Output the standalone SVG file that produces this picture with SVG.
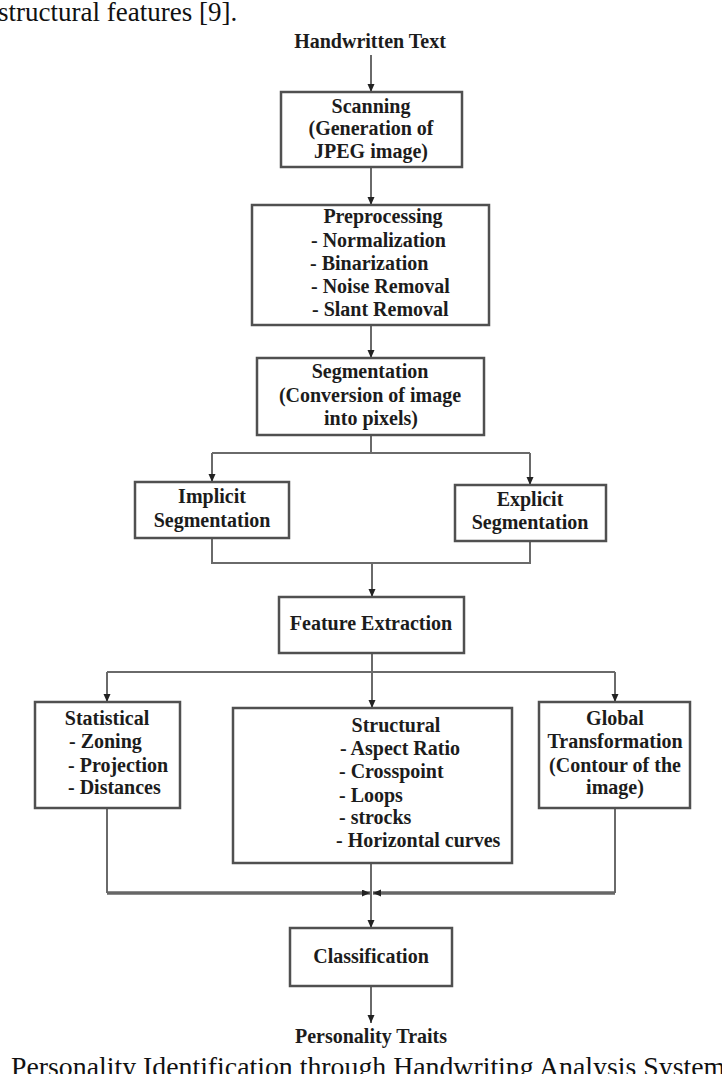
<svg xmlns="http://www.w3.org/2000/svg" width="722" height="1074" viewBox="0 0 722 1074">
<style>
.box{fill:#fff;stroke:#505050;stroke-width:2.5}
.t{font-family:"Liberation Serif","Times New Roman",serif;font-weight:bold;font-size:20px;fill:#1c1c1c}
.c{text-anchor:middle}
.cap{font-family:"Liberation Serif","Times New Roman",serif;font-size:27px;fill:#111}
.ln{fill:none;stroke:#6a6a6a;stroke-width:2}
.thick{fill:none;stroke:#666;stroke-width:3.5}
</style>
<defs>
<marker id="ah" markerUnits="userSpaceOnUse" markerWidth="8" markerHeight="9" refX="8" refY="3.5" orient="auto">
<path d="M0,0 L8,3.5 L0,7 Z" fill="#222"/>
</marker>
</defs>
<rect width="722" height="1074" fill="#fff"/>
<text class="cap" x="-2" y="21">structural features [9].</text>
<text class="cap" x="11" y="1076" style="font-size:27.8px">Personality Identification through Handwriting Analysis System</text>

<g id="connectors">
<path class="ln" d="M371,55 V92" marker-end="url(#ah)"/>
<path class="ln" d="M371,167 V205" marker-end="url(#ah)"/>
<path class="ln" d="M371,325 V358" marker-end="url(#ah)"/>
<path class="ln" d="M371,435 V453 M212,453 H530"/>
<path class="ln" d="M212,453 V482" marker-end="url(#ah)"/>
<path class="ln" d="M530,453 V485" marker-end="url(#ah)"/>
<path class="ln" d="M212,538 V563 H530 V541"/>
<path class="ln" d="M372,563 V597" marker-end="url(#ah)"/>
<path class="ln" d="M372,653 V672 M107,672 H615"/>
<path class="ln" d="M107,672 V702" marker-end="url(#ah)"/>
<path class="ln" d="M372,672 V708" marker-end="url(#ah)"/>
<path class="ln" d="M615,672 V702" marker-end="url(#ah)"/>
<path class="ln" d="M107,808 V893"/>
<path class="ln" d="M615,808 V893"/>
<path class="thick" d="M107,893 H370" marker-end="url(#ah)"/>
<path class="thick" d="M615,893 H373" marker-end="url(#ah)"/>
<path class="ln" d="M371,863 V928" marker-end="url(#ah)"/>
<path class="ln" d="M371,986 V1023" marker-end="url(#ah)"/>
</g>

<g id="handwritten-text">
<text class="t c" x="370" y="48">Handwritten Text</text>
</g>
<g id="scanning">
<rect class="box" x="281" y="92" width="181" height="75"/>
<text class="t c" x="371" y="113">Scanning</text>
<text class="t c" x="371" y="135">(Generation of</text>
<text class="t c" x="371" y="158">JPEG image)</text>
</g>
<g id="preprocessing">
<rect class="box" x="252" y="205" width="237" height="120"/>
<text class="t c" x="383" y="223">Preprocessing</text>
<text class="t" x="311" y="247">- Normalization</text>
<text class="t" x="310" y="270">- Binarization</text>
<text class="t" x="311" y="293">- Noise Removal</text>
<text class="t" x="312" y="316">- Slant Removal</text>
</g>
<g id="segmentation">
<rect class="box" x="257" y="358" width="227" height="77"/>
<text class="t c" x="370" y="378">Segmentation</text>
<text class="t c" x="370" y="402">(Conversion of image</text>
<text class="t c" x="371" y="425">into pixels)</text>
</g>
<g id="implicit">
<rect class="box" x="135" y="482" width="154" height="56"/>
<text class="t c" x="212" y="503">Implicit</text>
<text class="t c" x="212" y="527">Segmentation</text>
</g>
<g id="explicit">
<rect class="box" x="455" y="485" width="151" height="56"/>
<text class="t c" x="530" y="506">Explicit</text>
<text class="t c" x="530" y="529">Segmentation</text>
</g>
<g id="feature-extraction">
<rect class="box" x="279" y="597" width="185" height="56"/>
<text class="t c" x="371" y="630">Feature Extraction</text>
</g>
<g id="statistical">
<rect class="box" x="35" y="702" width="145" height="106"/>
<text class="t c" x="107" y="725">Statistical</text>
<text class="t" x="69" y="748">- Zoning</text>
<text class="t" x="68" y="772">- Projection</text>
<text class="t" x="68" y="794">- Distances</text>
</g>
<g id="structural">
<rect class="box" x="233" y="708" width="279" height="155"/>
<text class="t c" x="396" y="732">Structural</text>
<text class="t" x="340" y="755">- Aspect Ratio</text>
<text class="t" x="339" y="778">- Crosspoint</text>
<text class="t" x="339" y="802">- Loops</text>
<text class="t" x="339" y="824">- strocks</text>
<text class="t" x="336" y="847">- Horizontal curves</text>
</g>
<g id="global">
<rect class="box" x="539" y="702" width="151" height="106"/>
<text class="t c" x="615" y="725">Global</text>
<text class="t c" x="615" y="748">Transformation</text>
<text class="t c" x="615" y="772">(Contour of the</text>
<text class="t c" x="615" y="794">image)</text>
</g>
<g id="classification">
<rect class="box" x="290" y="928" width="162" height="58"/>
<text class="t c" x="371" y="963">Classification</text>
</g>
<g id="personality-traits">
<text class="t c" x="371" y="1043">Personality Traits</text>
</g>
</svg>
